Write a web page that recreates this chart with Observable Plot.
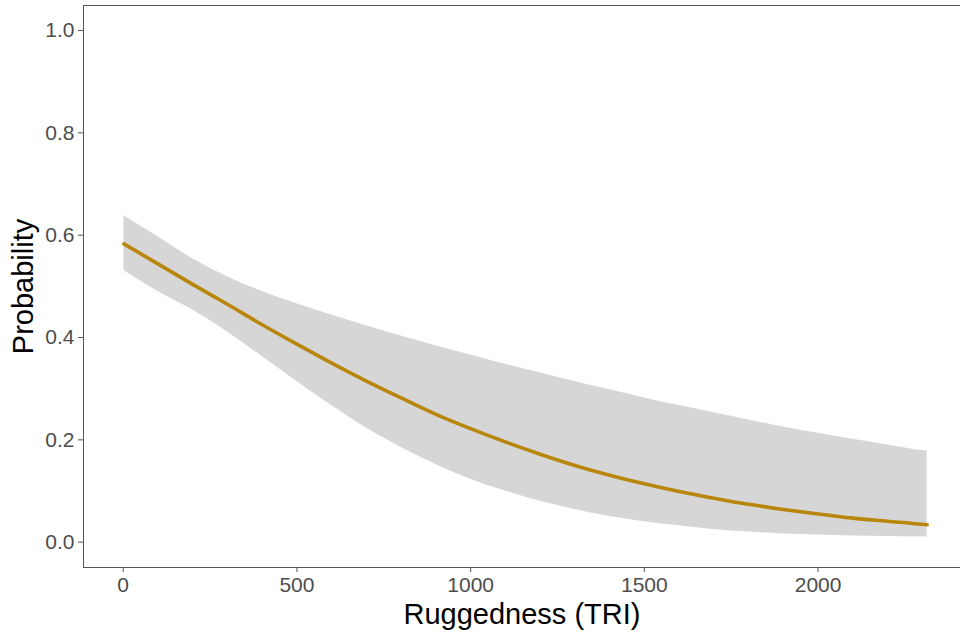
<!DOCTYPE html>
<html>
<head>
<meta charset="utf-8">
<script src="https://cdn.jsdelivr.net/npm/d3@7"></script>
<script src="https://cdn.jsdelivr.net/npm/@observablehq/plot@0.6"></script>
<style>
  html, body { margin: 0; padding: 0; background: #fff; }
</style>
</head>
<body>
<div id="chart"></div>
<script>
const ruggedness = [2, 100, 200, 300, 400, 500, 600, 700, 800, 900, 1000, 1100, 1200, 1300, 1400, 1500, 1600, 1700, 1800, 1900, 2000, 2100, 2200, 2300, 2314];
const probability = [0.583, 0.544, 0.504, 0.465, 0.425, 0.387, 0.350, 0.315, 0.282, 0.250, 0.222, 0.196, 0.172, 0.150, 0.131, 0.114, 0.099, 0.086, 0.074, 0.064, 0.055, 0.047, 0.041, 0.035, 0.034];
const upperCI = [0.638, 0.597, 0.554, 0.519, 0.490, 0.466, 0.444, 0.423, 0.403, 0.384, 0.366, 0.348, 0.331, 0.314, 0.298, 0.282, 0.267, 0.253, 0.239, 0.225, 0.213, 0.201, 0.190, 0.179, 0.178];
const lowerCI = [0.531, 0.490, 0.454, 0.411, 0.363, 0.314, 0.267, 0.223, 0.185, 0.152, 0.123, 0.100, 0.080, 0.064, 0.050, 0.040, 0.032, 0.025, 0.020, 0.016, 0.014, 0.012, 0.011, 0.010, 0.010];
const xTicks = [0, 500, 1000, 1500, 2000];
const yTicks = [0, 0.2, 0.4, 0.6, 0.8, 1.0];
const xTitle = "Ruggedness (TRI)";
const yTitle = "Probability";

const data = ruggedness.map((x, i) => ({x, p: probability[i], lo: lowerCI[i], hi: upperCI[i]}));

const chart = Plot.plot({
  width: 960,
  height: 634,
  marginLeft: 83,
  marginRight: 0,
  marginTop: 5,
  marginBottom: 67,
  style: {fontFamily: "Liberation Sans, Arial, sans-serif", background: "#fff"},
  x: {domain: [-114.3, 2410]},
  y: {domain: [-0.0495, 1.049]},
  marks: [
    Plot.areaY(data, {x: "x", y1: "lo", y2: "hi", fill: "#999999", fillOpacity: 0.4, curve: "monotone-x"}),
    Plot.line(data, {x: "x", y: "p", stroke: "#b8860b", strokeWidth: 3.6, curve: "monotone-x"}),
    Plot.frame({stroke: "#555", strokeWidth: 1}),
    Plot.axisX({ticks: xTicks, tickSize: 5, tickPadding: 5, fontSize: 21, color: "#4d4d4d", stroke: "#555", label: null, tickFormat: d => String(d)}),
    Plot.axisY({ticks: yTicks, tickSize: 5, tickPadding: 4, fontSize: 21, color: "#4d4d4d", stroke: "#555", label: null, tickFormat: d3.format(".1f")}),
    Plot.text([xTitle], {frameAnchor: "bottom", lineAnchor: "bottom", textAnchor: "middle", dy: 56, text: d => d, fontSize: 29, fill: "#000"}),
    Plot.text([yTitle], {frameAnchor: "left", lineAnchor: "middle", textAnchor: "middle", dx: -60, rotate: -90, text: d => d, fontSize: 29, fill: "#000"})
  ]
});
document.getElementById("chart").appendChild(chart);
</script>
</body>
</html>
